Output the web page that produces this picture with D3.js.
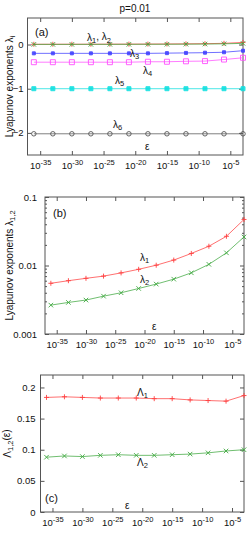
<!doctype html>
<html>
<head>
<meta charset="utf-8">
<title>Lyapunov exponents</title>
<style>
  body { margin: 0; background: #fff; }
  svg text { font-family: "Liberation Sans", Arial, sans-serif; fill: #111; }
  .tick line { stroke: #555; }
  .border { fill: none; stroke: #555; stroke-width: 1px; }
  .series { fill: none; stroke-width: 1px; stroke-opacity: 0.75; }
</style>
<script src="https://cdn.jsdelivr.net/npm/d3@7"></script>
</head>
<body>
<script>
// x positions of the data points (exponent of epsilon)
const epsExp = [-36, -33, -30, -27, -24, -21, -18, -15, -12, -9, -6, -3];
const xTickExp = [-35, -30, -25, -20, -15, -10, -5];

// panel (a), p=0.01
const lam1 = [0.0055, 0.0060, 0.0065, 0.0070, 0.0078, 0.0088, 0.0101, 0.0120, 0.0150, 0.0191, 0.0267, 0.0470];
const lam2 = [0.00264, 0.00289, 0.00313, 0.00357, 0.0040, 0.00462, 0.00535, 0.00632, 0.00782, 0.0104, 0.0153, 0.0261];
const lam3 = [-0.2, -0.2, -0.2, -0.2, -0.2, -0.2, -0.2, -0.195, -0.19, -0.185, -0.175, -0.14];
const lam4 = [-0.4, -0.4, -0.4, -0.4, -0.4, -0.4, -0.39, -0.39, -0.38, -0.375, -0.34, -0.3];
const lam5 = [-1, -1, -1, -1, -1, -1, -1, -1, -1, -1, -1, -1];
const lam6 = [-2.02, -2.02, -2.02, -2.02, -2.02, -2.02, -2.02, -2.02, -2.02, -2.02, -2.02, -2.02];
const aTicks = [0, -1, -2];

// panel (b) uses lam1, lam2 on a log axis
const bTicks = [0.1, 0.01, 0.001];

// panel (c)
const bigLam1 = [0.184, 0.185, 0.184, 0.183, 0.183, 0.183, 0.182, 0.182, 0.180, 0.179, 0.178, 0.187];
const bigLam2 = [0.088, 0.090, 0.089, 0.091, 0.092, 0.091, 0.091, 0.092, 0.093, 0.095, 0.098, 0.100];
const cTicks = [0, 0.05, 0.1, 0.15, 0.2];

const svg = d3.select("body").append("svg")
    .attr("width", 249)
    .attr("height", 534);

// little marker shapes, like gnuplot point types
function marker(type, s) {
  const h = s / 2;
  if (type === "plus") return `M${-h},0H${h}M0,${-h}V${h}`;
  if (type === "times") return `M${-h},${-h}L${h},${h}M${-h},${h}L${h},${-h}`;
  if (type === "square") return `M${-h},${-h}H${h}V${h}H${-h}Z`;
  if (type === "circle") return `M${h},0A${h},${h} 0 1,1 ${-h},0A${h},${h} 0 1,1 ${h},0Z`;
}

function drawPanel(p) {
  const x = d3.scaleLog().domain([1e-37, 1e-3]).range([p.l, p.r]);
  const y = (p.log ? d3.scaleLog() : d3.scaleLinear()).domain(p.yDomain).range([p.b, p.t]);
  const g = svg.append("g");
  const xv = xTickExp.map(e => Math.pow(10, e));

  // bottom axis with superscript labels
  const bx = g.append("g").attr("transform", `translate(0,${p.b})`)
      .call(d3.axisBottom(x).tickValues(xv).tickSizeInner(-4).tickSizeOuter(0).tickPadding(4));
  bx.select(".domain").remove();
  bx.selectAll("text").each(function(d, i) {
    const t = d3.select(this).text(null).attr("font-size", 9.5).attr("dy", "1em");
    t.append("tspan").text("10");
    t.append("tspan").attr("dy", "-0.45em").attr("font-size", 7.5).text(xTickExp[i]);
  });
  // top mirror ticks
  const tx = g.append("g").attr("transform", `translate(0,${p.t})`)
      .call(d3.axisTop(x).tickValues(xv).tickSizeInner(-4).tickSizeOuter(0).tickFormat(""));
  tx.select(".domain").remove();

  // left axis
  const ly = g.append("g").attr("transform", `translate(${p.l},0)`)
      .call(d3.axisLeft(y).tickValues(p.yTicks).tickSizeInner(-4).tickSizeOuter(0)
        .tickPadding(p.pad).tickFormat(p.fmt));
  ly.select(".domain").remove();
  ly.selectAll("text").attr("font-size", 9.5);
  const ry = g.append("g").attr("transform", `translate(${p.r},0)`)
      .call(d3.axisRight(y).tickValues(p.yTicks).tickSizeInner(-4).tickSizeOuter(0).tickFormat(""));
  ry.select(".domain").remove();

  if (p.log) {
    // minor ticks on the log y axis
    const minor = [];
    [0.001, 0.01].forEach(dec => { for (let k = 2; k < 10; k++) minor.push(dec * k); });
    const ml = g.append("g").attr("transform", `translate(${p.l},0)`)
        .call(d3.axisLeft(y).tickValues(minor).tickSizeInner(-2).tickSizeOuter(0).tickFormat(""));
    ml.select(".domain").remove();
    const mr = g.append("g").attr("transform", `translate(${p.r},0)`)
        .call(d3.axisRight(y).tickValues(minor).tickSizeInner(-2).tickSizeOuter(0).tickFormat(""));
    mr.select(".domain").remove();
  }

  g.append("rect").attr("class", "border")
      .attr("x", p.l).attr("y", p.t).attr("width", p.r - p.l).attr("height", p.b - p.t);

  const line = d3.line().x((d, i) => x(Math.pow(10, epsExp[i]))).y(d => y(d));
  p.series.forEach(s => {
    g.append("path").attr("class", "series").attr("stroke", s.color).attr("d", line(s.values));
    g.selectAll(null).data(s.values).join("path")
        .attr("transform", (d, i) => `translate(${x(Math.pow(10, epsExp[i]))},${y(d)})`)
        .attr("d", marker(s.mark, s.size))
        .attr("fill", s.fill ? s.color : "none")
        .attr("stroke", s.color)
        .attr("stroke-width", 1)
        .attr("opacity", 0.9);
  });

  // labels inside the panel
  p.labels.forEach(lb => {
    const t = g.append("text").attr("x", lb.x).attr("y", lb.y).attr("font-size", lb.fs || 10);
    lb.parts.forEach(pt => {
      if (pt.sub) t.append("tspan").attr("dy", "0.3em").attr("font-size", 7.5).text(pt.sub);
      else t.append("tspan").attr("dy", pt.reset ? "-0.3em" : null).text(pt.t);
    });
  });

  // rotated y label
  const yl = g.append("text")
      .attr("transform", `translate(${p.ylx},${(p.t + p.b) / 2}) rotate(-90)`)
      .attr("text-anchor", "middle").attr("font-size", 10);
  p.ylabel.forEach(pt => {
    if (pt.sub) yl.append("tspan").attr("dy", "0.3em").attr("font-size", 7.5).text(pt.sub);
    else yl.append("tspan").attr("dy", pt.reset ? "-0.3em" : null).text(pt.t);
  });
}

// title
svg.append("text").attr("x", 135).attr("y", 12).attr("text-anchor", "middle")
    .attr("font-size", 10).text("p=0.01");

drawPanel({
  l: 27.5, r: 243, t: 18, b: 155, log: false, yDomain: [-2.5, 0.6], yTicks: aTicks, pad: 4,
  fmt: d3.format("d"),
  series: [
    {values: lam6, color: "#555", mark: "circle", size: 4.5},
    {values: lam5, color: "#10e0e0", mark: "square", size: 4, fill: true},
    {values: lam4, color: "#ff50ff", mark: "square", size: 5},
    {values: lam3, color: "#4040ff", mark: "square", size: 3, fill: true},
    {values: lam1, color: "#ff4040", mark: "plus", size: 5},
    {values: lam2, color: "#40a840", mark: "times", size: 4.5}
  ],
  labels: [
    {x: 35, y: 36, fs: 11, parts: [{t: "(a)"}]},
    {x: 87, y: 41, parts: [{t: "λ"}, {sub: "1"}, {t: ", λ", reset: true}, {sub: "2"}]},
    {x: 130, y: 57, parts: [{t: "λ"}, {sub: "3"}]},
    {x: 143, y: 74, parts: [{t: "λ"}, {sub: "4"}]},
    {x: 115, y: 84, parts: [{t: "λ"}, {sub: "5"}]},
    {x: 113, y: 128, parts: [{t: "λ"}, {sub: "6"}]},
    {x: 145, y: 150, parts: [{t: "ε"}]}
  ],
  ylx: 13,
  ylabel: [{t: "Lyapunov exponents  λ"}, {sub: "i"}]
});

drawPanel({
  l: 45, r: 244, t: 197, b: 334, log: true, yDomain: [0.001, 0.1], yTicks: bTicks, pad: 8,
  fmt: d => String(d),
  series: [
    {values: lam1, color: "#ff4040", mark: "plus", size: 5},
    {values: lam2, color: "#40a840", mark: "times", size: 4.5}
  ],
  labels: [
    {x: 53, y: 217, fs: 11, parts: [{t: "(b)"}]},
    {x: 140, y: 261, parts: [{t: "λ"}, {sub: "1"}]},
    {x: 140, y: 283, parts: [{t: "λ"}, {sub: "2"}]},
    {x: 152, y: 330, parts: [{t: "ε"}]}
  ],
  ylx: 13,
  ylabel: [{t: "Lyapunov exponents  λ"}, {sub: "1,2"}]
});

drawPanel({
  l: 40.5, r: 244, t: 375, b: 512, log: false, yDomain: [0, 0.22], yTicks: cTicks, pad: 5,
  fmt: d => String(d),
  series: [
    {values: bigLam1, color: "#ff4040", mark: "plus", size: 5},
    {values: bigLam2, color: "#40a840", mark: "times", size: 4.5}
  ],
  labels: [
    {x: 137, y: 396, parts: [{t: "Λ"}, {sub: "1"}]},
    {x: 137, y: 466, parts: [{t: "Λ"}, {sub: "2"}]},
    {x: 45, y: 502, fs: 11, parts: [{t: "(c)"}]},
    {x: 125, y: 509, parts: [{t: "ε"}]}
  ],
  ylx: 11,
  ylabel: [{t: "Λ"}, {sub: "1,2"}, {t: "(ε)", reset: true}]
});
</script>
</body>
</html>
